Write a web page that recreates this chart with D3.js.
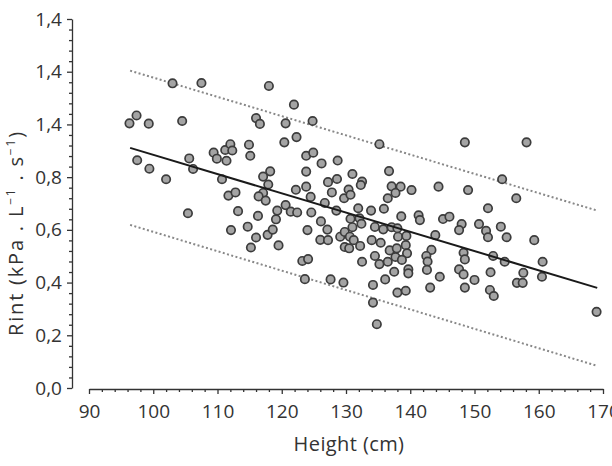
<!DOCTYPE html>
<html>
<head>
<meta charset="UTF-8">
<script src="https://cdn.jsdelivr.net/npm/d3@7"></script>
<style>
  body { margin: 0; background: #fff; }
  text { font-family: "Open Sans", sans-serif; fill: #333; }
</style>
</head>
<body>
<div id="chart"></div>
<script>
// data
const heights = [96.3, 97.4, 99.3, 97.5, 99.4, 102.0, 103.0, 107.5, 104.5, 105.6,
  106.2, 109.4, 109.9, 111.2, 112.0, 112.3, 111.4, 110.7, 114.9, 115.1,
  118.0, 121.9, 116.0, 116.6, 120.6, 124.8, 120.4, 122.3, 118.2, 117.1,
  117.9, 117.1, 116.4, 117.5, 111.7, 112.8, 105.4, 113.2, 116.3, 119.3,
  120.6, 121.4, 122.4, 122.2, 123.8, 123.8, 123.8, 124.9, 126.2, 128.7,
  127.2, 128.6, 127.8, 129.7, 124.5, 124.6, 126.7, 128.5, 119.1, 114.7,
  112.1, 116.0, 117.8, 118.6, 124.0, 126.1, 127.1, 126.0, 127.2, 129.1,
  129.8, 115.2, 119.5, 129.8, 123.2, 124.1, 123.6, 127.6, 129.6, 135.2,
  148.5, 158.1, 154.3, 131.0, 136.7, 132.5, 132.3, 137.1, 138.5, 137.7,
  140.2, 144.4, 149.0, 156.5, 130.4, 130.7, 136.5, 152.1, 131.9, 133.9,
  135.9, 138.6, 141.3, 141.5, 145.1, 146.1, 148.0, 147.6, 150.7, 151.8,
  152.1, 154.1, 155.0, 159.3, 130.7, 131.0, 132.1, 132.4, 130.6, 131.2,
  134.5, 135.8, 137.1, 138.0, 138.1, 139.4, 143.9, 134.0, 135.4, 132.2,
  130.5, 136.8, 137.9, 139.3, 139.5, 143.3, 134.5, 135.2, 137.7, 138.7,
  142.5, 142.7, 148.3, 148.5, 152.9, 154.7, 132.5, 136.5, 142.6, 147.6,
  148.3, 152.5, 157.6, 160.6, 137.5, 139.7, 139.7, 136.1, 144.6, 150.0,
  156.6, 157.5, 160.5, 134.2, 143.1, 148.5, 152.4, 153.0, 138.0, 139.3,
  134.2, 134.8, 169.0];
const rint = [1.004, 1.034, 1.003, 0.864, 0.832, 0.792, 1.156, 1.157, 1.013, 0.871,
  0.831, 0.893, 0.870, 0.903, 0.925, 0.901, 0.862, 0.792, 0.923, 0.881,
  1.146, 1.075, 1.024, 1.002, 1.004, 1.013, 0.932, 0.952, 0.822, 0.802,
  0.772, 0.740, 0.727, 0.711, 0.730, 0.742, 0.663, 0.671, 0.653, 0.673,
  0.694, 0.669, 0.666, 0.752, 0.764, 0.821, 0.881, 0.893, 0.852, 0.863,
  0.781, 0.793, 0.742, 0.720, 0.725, 0.666, 0.702, 0.673, 0.640, 0.612,
  0.599, 0.571, 0.581, 0.601, 0.599, 0.632, 0.601, 0.562, 0.561, 0.574,
  0.592, 0.533, 0.541, 0.535, 0.482, 0.489, 0.413, 0.412, 0.400, 0.925,
  0.932, 0.932, 0.792, 0.812, 0.823, 0.783, 0.770, 0.765, 0.764, 0.740,
  0.751, 0.764, 0.751, 0.720, 0.753, 0.733, 0.720, 0.682, 0.682, 0.673,
  0.680, 0.651, 0.655, 0.637, 0.641, 0.650, 0.622, 0.599, 0.622, 0.596,
  0.572, 0.612, 0.572, 0.561, 0.642, 0.610, 0.644, 0.623, 0.574, 0.561,
  0.611, 0.602, 0.610, 0.606, 0.574, 0.577, 0.580, 0.561, 0.551, 0.539,
  0.530, 0.522, 0.530, 0.542, 0.511, 0.524, 0.501, 0.470, 0.497, 0.486,
  0.501, 0.480, 0.513, 0.488, 0.501, 0.479, 0.479, 0.479, 0.448, 0.450,
  0.431, 0.439, 0.437, 0.479, 0.441, 0.450, 0.435, 0.412, 0.422, 0.410,
  0.399, 0.399, 0.422, 0.391, 0.381, 0.381, 0.372, 0.349, 0.362, 0.369,
  0.324, 0.242, 0.289];

// regression line and its band
const fitHeight = [96.4, 169.1];
const fitRint = [0.911, 0.380];
const upperRint = [1.204, 0.673];
const lowerRint = [0.619, 0.084];

const xTicks = [90, 100, 110, 120, 130, 140, 150, 160, 170];
const yTicks = [0, 0.2, 0.4, 0.6, 0.8, 1.0, 1.2, 1.4];
const yTickLabels = ["0,0", "0,2", "0,4", "0,6", "0,8", "1,4", "1,4", "1,4"];

const w = 612, h = 466;

const svg = d3.select("#chart").append("svg")
  .attr("width", w)
  .attr("height", h);

const x = d3.scaleLinear().domain([90, 170]).range([89, 603]);
const y = d3.scaleLinear().domain([0, 1.4]).range([388, 19]);

// axes
svg.append("g")
  .attr("transform", "translate(0,389)")
  .call(d3.axisBottom(x).tickValues(xTicks).tickSize(5).tickSizeOuter(0).tickPadding(11)
    .tickFormat(d3.format("d")));
svg.append("g")
  .attr("transform", "translate(0,389)")
  .call(d3.axisBottom(x).tickValues(d3.range(92, 170, 2).filter(v => v % 10 != 0))
    .tickSize(3).tickSizeOuter(0).tickFormat(""))
  .select(".domain").remove();

svg.append("g")
  .attr("transform", "translate(72,0)")
  .call(d3.axisLeft(y).tickValues(yTicks).tickSize(5).tickSizeOuter(0).tickPadding(5)
    .tickFormat((d, i) => yTickLabels[i]));
svg.append("g")
  .attr("transform", "translate(72,0)")
  .call(d3.axisLeft(y).tickValues(d3.range(0, 1.4, 0.04).filter((v, i) => i % 5 != 0))
    .tickSize(3).tickSizeOuter(0).tickFormat(""))
  .select(".domain").remove();

svg.selectAll(".domain, .tick line").attr("stroke", "#333").attr("stroke-width", 1.3);
svg.selectAll(".tick text").style("font-size", "19px").attr("fill", "#333");

// band and fit lines
const line = d3.line().x(d => x(d[0])).y(d => y(d[1]));
[upperRint, lowerRint].forEach(r => {
  svg.append("path")
    .datum(d3.zip(fitHeight, r))
    .attr("d", line)
    .attr("fill", "none")
    .attr("stroke", "#888")
    .attr("stroke-width", 2)
    .attr("stroke-dasharray", "2,2.4");
});

// points
svg.append("g").selectAll("circle")
  .data(d3.zip(heights, rint))
  .join("circle")
  .attr("cx", d => x(d[0]))
  .attr("cy", d => y(d[1]))
  .attr("r", 4.2)
  .attr("fill", "#a4a4a4")
  .attr("stroke", "#3c3c3c")
  .attr("stroke-width", 1.7);

svg.append("path")
  .datum(d3.zip(fitHeight, fitRint))
  .attr("d", line)
  .attr("fill", "none")
  .attr("stroke", "#1a1a1a")
  .attr("stroke-width", 2);

// axis titles
svg.append("text")
  .attr("x", 349)
  .attr("y", 451)
  .attr("text-anchor", "middle")
  .style("font-size", "20px")
  .style("letter-spacing", "0.4px")
  .text("Height (cm)");

const yt = svg.append("text")
  .attr("transform", "translate(23,233) rotate(-90)")
  .attr("text-anchor", "middle")
  .style("font-size", "20px")
  .style("letter-spacing", "1.8px");
yt.append("tspan").text("Rint (kPa . L");
yt.append("tspan").attr("dy", -8).style("font-size", "12px").text("−1");
yt.append("tspan").attr("dy", 8).text(" . s");
yt.append("tspan").attr("dy", -8).style("font-size", "12px").text("−1");
yt.append("tspan").attr("dy", 8).text(")");
</script>
</body>
</html>
